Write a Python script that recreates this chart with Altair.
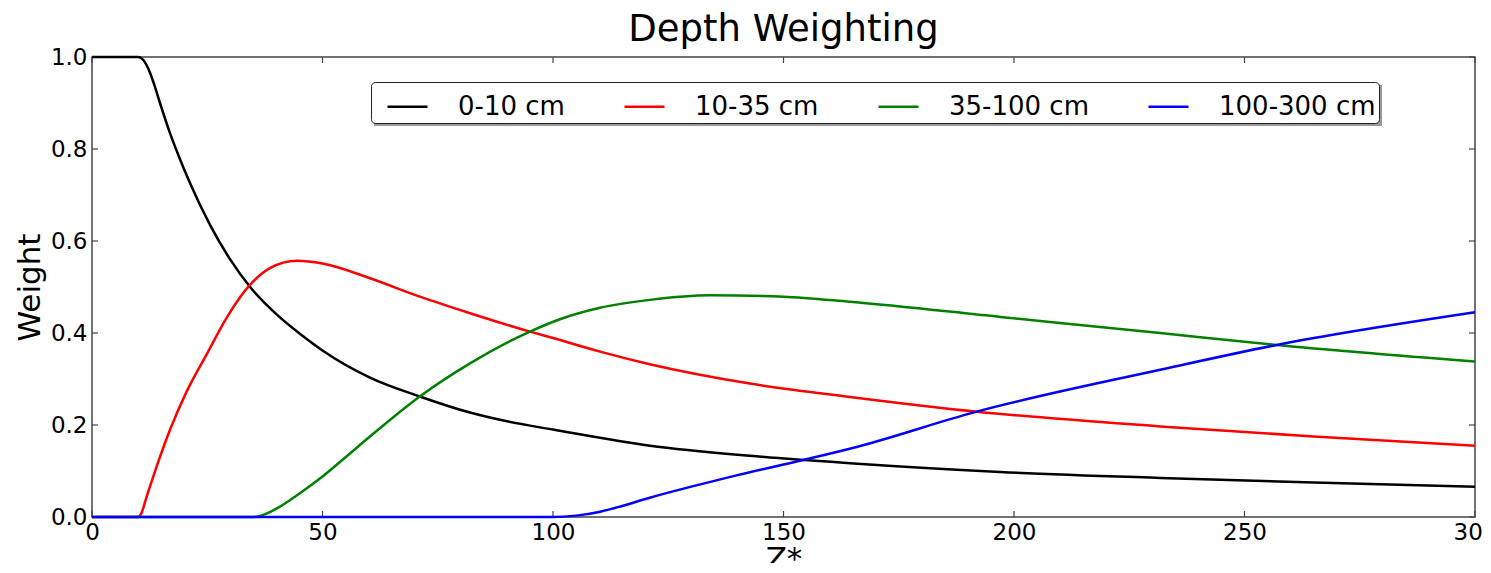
import altair as alt
import pandas as pd

# ---- data ----
series_names = ["0-10 cm", "10-35 cm", "35-100 cm", "100-300 cm"]
series_colors = ["#000000", "#ff0000", "#008000", "#0000ff"]

z_black = [0, 10, 11, 12.2, 13.5, 14.75, 16.9, 19, 21.3, 25.6, 29.9, 34.3, 40.1, 45.8, 50, 60.3, 71.1, 82, 90, 100, 121, 142.7, 164.4, 197, 231.7, 265, 300]
w_black = [1.0, 1.0, 0.995, 0.975, 0.940, 0.900, 0.835, 0.780, 0.725, 0.635, 0.561, 0.500, 0.440, 0.393, 0.362, 0.303, 0.262, 0.227, 0.208, 0.190, 0.155, 0.133, 0.117, 0.098, 0.085, 0.075, 0.066]

z_red = [0, 10, 10.7, 11.85, 14.0, 16.9, 20.5, 24.9, 29.2, 34.3, 38.6, 44.4, 50, 60.3, 71.1, 82, 95, 100, 110, 121, 142.7, 164.4, 191.9, 231.7, 265, 300]
w_red = [0, 0, 0.008, 0.044, 0.109, 0.189, 0.272, 0.354, 0.433, 0.505, 0.541, 0.557, 0.551, 0.519, 0.479, 0.443, 0.403, 0.389, 0.360, 0.332, 0.290, 0.261, 0.229, 0.197, 0.175, 0.155]

z_green = [0, 35, 37, 40, 43, 46, 49.5, 55, 60.3, 71.1, 82, 95, 101.5, 110.2, 121, 134, 150, 164.4, 197, 231.7, 257, 300]
w_green = [0, 0, 0.004, 0.018, 0.037, 0.058, 0.084, 0.130, 0.175, 0.262, 0.334, 0.403, 0.430, 0.455, 0.472, 0.482, 0.479, 0.468, 0.435, 0.400, 0.374, 0.338]

z_blue = [0, 100, 105, 110, 115, 121, 130, 140, 154.3, 165, 191.9, 231.7, 257, 300]
w_blue = [0, 0, 0.003, 0.011, 0.024, 0.042, 0.066, 0.091, 0.124, 0.150, 0.229, 0.320, 0.374, 0.445]

x_ticks = [0, 50, 100, 150, 200, 250, 300]
y_ticks = [0.0, 0.2, 0.4, 0.6, 0.8, 1.0]

# ---- build tables ----
rows = []
for name, zs, ws in zip(series_names,
                        [z_black, z_red, z_green, z_blue],
                        [w_black, w_red, w_green, w_blue]):
    for z, w in zip(zs, ws):
        rows.append({"z": z, "w": w, "layer": name})
df = pd.DataFrame(rows)
df_xt = pd.DataFrame({"t": x_ticks})
df_yt = pd.DataFrame({"t": y_ticks})

W, H = 1383, 460
FONT = "DejaVu Sans"
TICK_COLOR = "#444444"
TL = 6

xscale = alt.Scale(domain=[0, 300], nice=False, zero=False)
yscale = alt.Scale(domain=[0, 1], nice=False, zero=False)

lines = alt.Chart(df).mark_line(strokeWidth=2.5, interpolate="monotone").encode(
    x=alt.X("z:Q", scale=xscale,
            axis=alt.Axis(values=x_ticks, format="d", title="Z*", labelFontSize=23,
                          titleFontSize=31, labelPadding=4, titlePadding=0,
                          labelFlush=False, labelOverlap=False,
                          labelColor="black", titleColor="black", titleFontWeight="normal")),
    y=alt.Y("w:Q", scale=yscale,
            axis=alt.Axis(values=y_ticks, format=".1f", title="Weight", labelFontSize=23,
                          titleFontSize=31, labelPadding=5, titlePadding=4,
                          labelFlush=False, labelOverlap=False,
                          labelColor="black", titleColor="black", titleFontWeight="normal")),
    color=alt.Color("layer:N",
                    scale=alt.Scale(domain=series_names, range=series_colors),
                    sort=series_names,
                    legend=alt.Legend(orient="none", legendX=279, legendY=25,
                                      direction="horizontal", title=None,
                                      symbolType="stroke", symbolSize=1600,
                                      symbolStrokeWidth=2.5, symbolOffset=12,
                                      labelOffset=29, columnPadding=46,
                                      labelFontSize=26, labelFont=FONT, labelColor="black",
                                      labelLimit=400,
                                      padding=3, strokeColor="#222222",
                                      fillColor="white", cornerRadius=4)),
    order=alt.Order("z:Q"),
)

shadow = alt.Chart(df_xt).mark_rect(color="#999999", opacity=0.7).encode(
    x=alt.value(282), x2=alt.value(1290), y=alt.value(28), y2=alt.value(69)
)

tick_left = alt.Chart(df_yt).mark_rule(color=TICK_COLOR, strokeWidth=1.2).encode(
    y=alt.Y("t:Q", scale=yscale), x=alt.value(0), x2=alt.value(TL))
tick_right = alt.Chart(df_yt).mark_rule(color=TICK_COLOR, strokeWidth=1.2).encode(
    y=alt.Y("t:Q", scale=yscale), x=alt.value(W - TL), x2=alt.value(W))
tick_bottom = alt.Chart(df_xt).mark_rule(color=TICK_COLOR, strokeWidth=1.2).encode(
    x=alt.X("t:Q", scale=xscale), y=alt.value(H - TL), y2=alt.value(H))
tick_top = alt.Chart(df_xt).mark_rule(color=TICK_COLOR, strokeWidth=1.2).encode(
    x=alt.X("t:Q", scale=xscale), y=alt.value(0), y2=alt.value(TL))

chart = alt.layer(shadow, tick_left, tick_right, tick_bottom, tick_top, lines).properties(
    width=W, height=H,
    background="white",
    title=alt.Title("Depth Weighting", fontSize=37, font=FONT, fontWeight="normal",
                    color="black", anchor="middle", offset=8, dy=11),
    autosize=alt.AutoSizeParams(type="none"),
    padding={"left": 84, "top": 49, "right": 8, "bottom": 46},
).configure_view(
    stroke=TICK_COLOR, strokeWidth=1.5
).configure_axis(
    domain=False, grid=False, ticks=False, labelFont=FONT, titleFont=FONT
)

chart.save("out.html", embed_options={"renderer": "svg", "actions": False})
